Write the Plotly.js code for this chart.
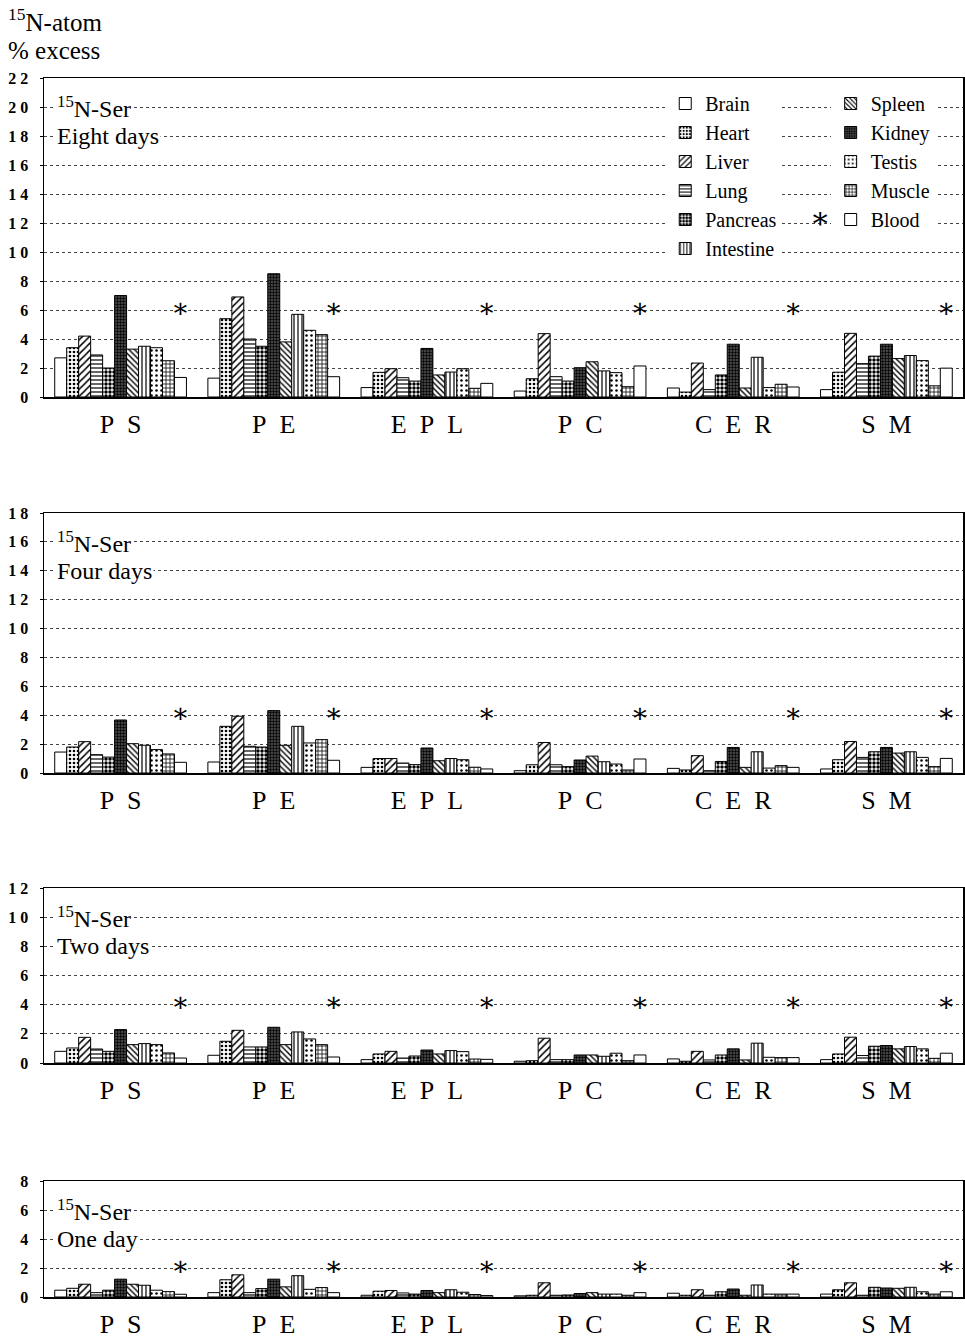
<!DOCTYPE html>
<html><head><meta charset="utf-8">
<script src="https://cdn.plot.ly/plotly-3.0.1.min.js"></script>
<style>body{margin:0;background:#fff}#chart{width:965px;height:1341px}</style>
</head><body><div id="chart"></div>
<script>
const categories = ['PS','PE','EPL','PC','CER','SM'];
const categoryLabels = ['P\u2002S','P\u2002E','E\u2002P\u2002L','P\u2002C','C\u2002E\u2002R','S\u2002M'];
const organs = ['Brain','Heart','Liver','Lung','Pancreas','Kidney','Spleen','Intestine','Testis','Muscle','Blood'];
const legendOrder = ['Brain','Heart','Liver','Lung','Pancreas','Intestine','Spleen','Kidney','Testis','Muscle','Blood'];
const legendColumn2 = ['Spleen','Kidney','Testis','Muscle','Blood'];
const panelTitles = ['Eight days','Four days','Two days','One day'];
const panelMax = [22,18,12,8];
const asteriskLevel = [6,4,4,2];

// rows follow `organs`, columns follow `categories`
const eightDays = [
 [2.7,1.3,0.65,0.41,0.62,0.51],
 [3.4,5.4,1.7,1.26,0.34,1.71],
 [4.2,6.9,1.95,4.37,2.34,4.39],
 [2.9,4.0,1.33,1.4,0.51,2.3],
 [2.0,3.5,1.1,1.1,1.52,2.82],
 [7.0,8.5,3.35,2.02,3.64,3.64],
 [3.3,3.8,1.52,2.43,0.62,2.65],
 [3.5,5.7,1.72,1.8,2.74,2.86],
 [3.4,4.6,1.95,1.68,0.65,2.51],
 [2.5,4.3,0.6,0.71,0.88,0.77],
 [1.35,1.4,0.94,2.14,0.69,1.99]
];
const fourDays = [
 [1.45,0.76,0.39,0.16,0.32,0.28],
 [1.8,3.23,1.0,0.57,0.21,0.92],
 [2.17,3.93,1.0,2.11,1.2,2.18],
 [1.27,1.85,0.69,0.57,0.16,1.08],
 [1.1,1.8,0.58,0.44,0.8,1.47],
 [3.67,4.32,1.73,0.9,1.77,1.77],
 [2.03,1.92,0.85,1.17,0.39,1.38],
 [1.92,3.23,1.0,0.78,1.47,1.47],
 [1.62,2.08,0.92,0.62,0.34,1.08],
 [1.32,2.31,0.4,0.21,0.51,0.44],
 [0.74,0.88,0.28,0.97,0.39,1.01]
];
const twoDays = [
 [0.8,0.53,0.23,0.12,0.28,0.23],
 [1.03,1.49,0.62,0.16,0.12,0.62],
 [1.76,2.24,0.8,1.7,0.8,1.77],
 [0.96,1.1,0.34,0.23,0.21,0.51],
 [0.8,1.1,0.48,0.23,0.55,1.15],
 [2.29,2.45,0.89,0.55,0.97,1.2],
 [1.26,1.26,0.62,0.55,0.21,0.97],
 [1.33,2.13,0.85,0.46,1.36,1.13],
 [1.26,1.65,0.78,0.67,0.39,0.97],
 [0.69,1.26,0.27,0.16,0.37,0.32],
 [0.34,0.41,0.25,0.55,0.37,0.67]
];
const oneDay = [
 [0.47,0.3,0.12,0.08,0.26,0.2],
 [0.6,1.19,0.4,0.12,0.12,0.5],
 [0.88,1.53,0.45,0.98,0.5,0.98],
 [0.3,0.3,0.28,0.12,0.12,0.12],
 [0.47,0.58,0.2,0.14,0.36,0.67],
 [1.23,1.23,0.45,0.24,0.55,0.62],
 [0.88,0.7,0.3,0.3,0.12,0.6],
 [0.81,1.47,0.5,0.2,0.83,0.67],
 [0.47,0.53,0.33,0.2,0.2,0.36],
 [0.37,0.65,0.17,0.12,0.2,0.2],
 [0.19,0.3,0.1,0.3,0.2,0.36]
];
const panels = [eightDays, fourDays, twoDays, oneDay];

const SERIF = 'Liberation Serif, Times New Roman, serif';
const patterns = {
  Brain:{shape:''},
  Heart:{shape:'.', size:4, solidity:0.35},
  Liver:{shape:'/', size:5, solidity:0.3},
  Lung:{shape:'-', size:4, solidity:0.3},
  Pancreas:{shape:'.', size:4, solidity:0.6},
  Kidney:{shape:'.', size:3, solidity:0.5},
  Spleen:{shape:'\\', size:4, solidity:0.35},
  Intestine:{shape:'|', size:4, solidity:0.3},
  Testis:{shape:'.', size:5, solidity:0.2},
  Muscle:{shape:'+', size:4, solidity:0.35},
  Blood:{shape:''}
};
const bargap = 0.14;
const xIdx = categories.map((c,i)=>i);

const domainsPx = [[78,397],[513,773],[888,1063],[1181,1297]];
const H = 1341;

const traces = [];
const layout = {
  width:965, height:1341, margin:{l:44,r:2,t:0,b:0},
  paper_bgcolor:'white', plot_bgcolor:'white',
  barmode:'group', bargap:bargap, bargroupgap:0,
  font:{family:SERIF, color:'black'},
  showlegend:true,
  legend:{x:0.676, y:1-84/H, xanchor:'left', yanchor:'top', bgcolor:'white', borderwidth:0,
          font:{family:SERIF, size:20}, tracegroupgap:0, orientation:'v'},
  legend2:{x:0.856, y:1-84/H, xanchor:'left', yanchor:'top', bgcolor:'white', borderwidth:0,
          font:{family:SERIF, size:20}, tracegroupgap:0, orientation:'v'},
  annotations:[], shapes:[]
};

panels.forEach((data, p) => {
  const n = p===0 ? '' : String(p+1);
  organs.forEach((org, k) => {
    const pat = patterns[org];
    traces.push({
      type:'bar', name:org, x:xIdx, y:data[k],
      xaxis:'x'+n, yaxis:'y'+n,
      legend: legendColumn2.includes(org) ? 'legend2' : 'legend',
      legendgroup: org, legendrank: legendOrder.indexOf(org)+1,
      showlegend: p===0,
      marker:{
        color: org==='Kidney' ? '#333' : 'white',
        line:{color:'black', width:1},
        pattern: pat.shape ? {shape:pat.shape, size:pat.size, solidity:pat.solidity,
                  fgcolor:'black', bgcolor: org==='Kidney' ? '#555' : 'white', fillmode:'replace'} : {shape:''}
      },
      hoverinfo:'name+y'
    });
  });
  // asterisks over the Blood bar position of each group
  const bloodOffset = (organs.length-1)/2 * (1-bargap)/organs.length;
  traces.push({
    type:'scatter', mode:'text', x:xIdx.map(i=>i+bloodOffset),
    y:categories.map(()=>asteriskLevel[p]), text:categories.map(()=>'\u2217'),
    textposition:'middle center', textfont:{family:'DejaVu Serif, DejaVu Sans', size:27, color:'black'},
    xaxis:'x'+n, yaxis:'y'+n, showlegend:false, hoverinfo:'skip'
  });
  const dom = domainsPx[p];
  const yticks = []; for (let v=0; v<=panelMax[p]; v+=2) yticks.push(v);
  layout['xaxis'+n] = {
    domain:[0,1], anchor:'y'+n, range:[-0.5,5.5], tickvals:xIdx, ticktext:categoryLabels,
    showgrid:false, zeroline:false, showline:true, linecolor:'black', linewidth:1.5, mirror:true,
    ticks:'', tickfont:{family:SERIF, size:26}, ticklabelstandoff:3, fixedrange:true
  };
  layout['yaxis'+n] = {
    domain:[1-dom[1]/H, 1-dom[0]/H], anchor:'x'+n, range:[0,panelMax[p]],
    tickvals:yticks, ticktext:yticks.map(v=>String(v).split('').join(' ')),
    showgrid:true, gridcolor:'#444', griddash:'dot', gridwidth:1,
    zeroline:false, showline:true, linecolor:'black', linewidth:1.5, mirror:true,
    ticks:'outside', ticklen:3, tickcolor:'black',
    tickfont:{family:SERIF, size:16, weight:'bold'}, ticklabelstandoff:8, fixedrange:true
  };
  const top = panelMax[p];
  const lvl1 = top-2, lvl2 = top-4;
  layout.annotations.push({
    xref:'x'+n+' domain', yref:'y'+n, x:0.012, y:lvl1, xanchor:'left', yanchor:'middle',
    text:'<sup>15</sup>N-Ser', showarrow:false, bgcolor:'white', font:{family:SERIF, size:24}
  });
  layout.annotations.push({
    xref:'x'+n+' domain', yref:'y'+n, x:0.012, y:lvl2, xanchor:'left', yanchor:'middle',
    text:panelTitles[p], showarrow:false, bgcolor:'white', font:{family:SERIF, size:24}
  });
});

layout.annotations.push({xref:'paper', yref:'paper', x:-38/919, y:1-20/H, xanchor:'left', yanchor:'middle',
  text:'<sup>15</sup>N-atom', showarrow:false, font:{family:SERIF, size:25}});
layout.annotations.push({xref:'paper', yref:'paper', x:-38/919, y:1-50/H, xanchor:'left', yanchor:'middle',
  text:'% excess', showarrow:false, font:{family:SERIF, size:25}});
layout.annotations.push({xref:'paper', yref:'paper', x:(820-44)/919, y:1-218/H, xanchor:'center', yanchor:'middle',
  text:'\u2217', showarrow:false, font:{family:'DejaVu Serif, DejaVu Sans', size:30}});

Plotly.newPlot('chart', traces, layout, {displayModeBar:false, staticPlot:true});
</script></body></html>
